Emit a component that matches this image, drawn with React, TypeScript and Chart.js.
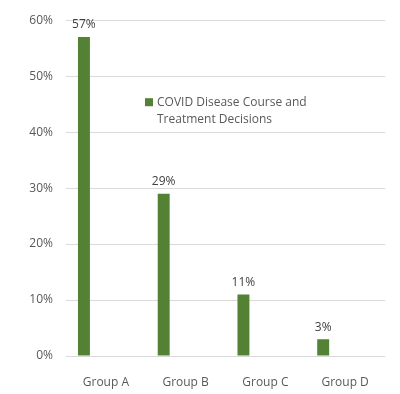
import React, { useEffect, useRef } from "react";
import { Chart, registerables } from "chart.js";

Chart.register(...registerables);

const categories = ["Group A", "Group B", "Group C", "Group D"];
const seriesLabel = ["COVID Disease Course and", "Treatment Decisions"];
const seriesValues = [57, 29, 11, 3];
const emptySeries = [null, null, null, null];
const yTicks = [0, 10, 20, 30, 40, 50, 60];

const FONT = "'Open Sans', 'Noto Sans', sans-serif";
const GREEN = "#548235";
const TEXT = "#595959";

const dataLabelPlugin = {
  id: "dataLabels",
  afterDatasetsDraw(chart: any) {
    const ctx = chart.ctx;
    const meta = chart.getDatasetMeta(0);
    ctx.save();
    ctx.font = `12px ${FONT}`;
    ctx.fillStyle = "#404040";
    ctx.textAlign = "center";
    ctx.textBaseline = "middle";
    meta.data.forEach((bar: any, i: number) => {
      ctx.fillText(`${seriesValues[i]}%`, bar.x, bar.y - 12);
    });
    ctx.restore();
  },
};

const legendPlugin = {
  id: "innerLegend",
  afterDraw(chart: any) {
    const ctx = chart.ctx;
    const area = chart.chartArea;
    const x = area.left + 79;
    const y = area.top + 78;
    ctx.save();
    ctx.fillStyle = GREEN;
    ctx.fillRect(x, y, 8, 8);
    ctx.font = `12px ${FONT}`;
    ctx.fillStyle = TEXT;
    ctx.textAlign = "left";
    ctx.textBaseline = "middle";
    seriesLabel.forEach((line, i) => {
      ctx.fillText(line, x + 12, y + 4 + i * 17);
    });
    ctx.restore();
  },
};

export default function App() {
  const ref = useRef<HTMLCanvasElement>(null);
  useEffect(() => {
    if (!ref.current) return;
    const chart = new Chart(ref.current, {
      type: "bar",
      data: {
        labels: categories,
        datasets: [
          {
            label: seriesLabel.join(" "),
            data: seriesValues,
            backgroundColor: GREEN,
            borderWidth: 0,
            categoryPercentage: 0.825,
            barPercentage: 0.545,
          },
          {
            label: "_empty1",
            data: emptySeries,
            backgroundColor: "transparent",
            categoryPercentage: 0.825,
            barPercentage: 0.545,
          },
          {
            label: "_empty2",
            data: emptySeries,
            backgroundColor: "transparent",
            categoryPercentage: 0.825,
            barPercentage: 0.545,
          },
        ],
      },
      options: {
        animation: false,
        responsive: false,
        maintainAspectRatio: false,
        layout: { padding: { top: 19, right: 15, left: 0, bottom: 0 } },
        plugins: {
          legend: { display: false },
          tooltip: { enabled: false },
        },
        scales: {
          x: {
            grid: { display: false },
            border: { display: false },
            ticks: {
              color: TEXT,
              font: { family: FONT, size: 12 },
              padding: 11,
              maxRotation: 0,
            },
            afterFit(scale: any) {
              scale.height = 38;
            },
          },
          y: {
            min: yTicks[0],
            max: yTicks[yTicks.length - 1],
            grid: { color: "#d9d9d9", drawTicks: false, lineWidth: 1 },
            border: { display: false },
            ticks: {
              stepSize: 10,
              color: TEXT,
              font: { family: FONT, size: 12 },
              padding: 13,
              callback: (v: any) => `${v}%`,
            },
            afterFit(scale: any) {
              scale.width = 66;
            },
          },
        },
      },
      plugins: [dataLabelPlugin, legendPlugin],
    });
    return () => chart.destroy();
  }, []);
  return (
    <div style={{ position: "fixed", left: 0, top: 0, width: 400, height: 394, background: "#fff" }}>
      <canvas ref={ref} width={400} height={394} style={{ width: 400, height: 394 }} />
    </div>
  );
}
